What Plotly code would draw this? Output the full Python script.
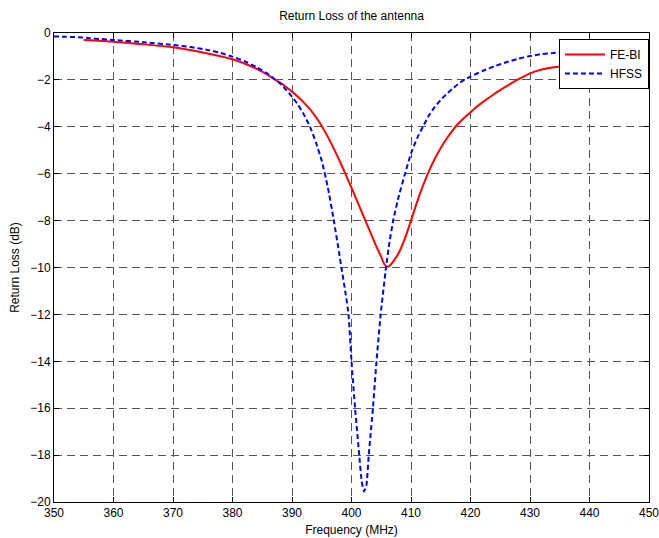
import plotly.graph_objects as go

# FE-BI simulation: frequency (MHz) and return loss (dB)
febi_freq = [355, 360, 365, 370, 375, 380, 382, 384, 386, 387, 388, 389, 390,
             391, 392, 393, 394, 395, 396, 397, 398, 399, 400, 401, 402, 403,
             404, 405, 405.5, 406, 406.5, 407, 408, 409, 410, 411, 412, 413, 414,
             415, 416, 417, 418, 419, 420, 421, 422, 424, 426, 428, 430, 432,
             434, 436, 438, 440, 442, 444, 446, 448, 450]
febi_rl = [-0.30, -0.37, -0.48, -0.61, -0.83, -1.12, -1.30, -1.52, -1.80, -1.97,
           -2.12, -2.30, -2.50, -2.72, -2.97, -3.25, -3.58, -3.97, -4.42, -4.92,
           -5.45, -6.02, -6.60, -7.20, -7.80, -8.40, -9.00, -9.55, -9.85, -9.97,
           -9.90, -9.75, -9.35, -8.75, -8.00, -7.22, -6.52, -5.90, -5.36, -4.90,
           -4.50, -4.15, -3.85, -3.60, -3.38, -3.16, -2.96, -2.60, -2.28, -1.98,
           -1.72, -1.56, -1.46, -1.41, -1.38, -1.37, -1.37, -1.38, -1.40, -1.42,
           -1.45]

# HFSS simulation: frequency (MHz) and return loss (dB)
hfss_freq = [350, 352, 354, 356, 358, 360, 365, 370, 373, 376, 378, 380, 382,
             384, 386, 387, 388, 389, 390, 391, 392, 393, 394, 395, 396, 397,
             398, 398.3, 399, 399.5, 400, 400.6, 401.3, 401.7, 402.1, 402.5,
             402.9, 403.6, 404.2, 404.9, 405.8, 406.4, 407, 408, 409, 410, 411,
             412, 413, 414, 415, 416, 417, 418, 419, 420, 422, 424, 426, 428,
             430, 432, 434, 436, 438, 440, 442, 444, 446, 448, 450]
hfss_rl = [-0.15, -0.16, -0.18, -0.22, -0.26, -0.30, -0.39, -0.51, -0.60, -0.73,
           -0.85, -1.01, -1.20, -1.45, -1.75, -1.95, -2.15, -2.42, -2.72, -3.05,
           -3.48, -3.98, -4.65, -5.45, -6.55, -7.95, -9.50, -10.0, -11.1, -12.0,
           -14.0, -16.0, -18.0, -19.1, -19.55, -19.3, -18.0, -16.0, -14.0, -12.0,
           -10.0, -8.90, -8.00, -6.90, -6.00, -5.13, -4.50, -4.00, -3.52, -3.15,
           -2.85, -2.60, -2.37, -2.16, -1.99, -1.86, -1.62, -1.42, -1.25, -1.10,
           -0.98, -0.90, -0.85, -0.84, -0.84, -0.85, -0.87, -0.89, -0.91, -0.93,
           -0.95]

x_ticks = list(range(350, 451, 10))
y_ticks = list(range(-20, 1, 2))

FONT = "Liberation Sans, Arial, sans-serif"

fig = go.Figure()
fig.add_trace(go.Scatter(x=febi_freq, y=febi_rl, mode="lines", name="FE-BI",
                         line=dict(color="#ff0000", width=2, shape="spline", smoothing=0.6)))
fig.add_trace(go.Scatter(x=hfss_freq, y=hfss_rl, mode="lines", name="HFSS",
                         line=dict(color="#0000ff", width=2, dash="5px,3px",
                                   shape="spline", smoothing=0.4)))

axis_common = dict(
    showline=True, linecolor="black", linewidth=1, mirror="ticks",
    ticks="inside", ticklen=5, tickcolor="black",
    showgrid=True, gridcolor="#555555", griddash="8px,5px", gridwidth=1,
    zeroline=False, automargin=False, ticklabeloverflow="allow",
    tickfont=dict(family=FONT, size=12, color="black"),
)

fig.update_xaxes(range=[350, 450], tickvals=x_ticks,
                 title=dict(text="Frequency (MHz)", font=dict(family=FONT, size=12, color="black"),
                            standoff=6),
                 **axis_common)
fig.update_yaxes(range=[-20, 0], tickvals=y_ticks,
                 title=dict(text="Return Loss (dB)", font=dict(family=FONT, size=12, color="black"),
                            standoff=8),
                 **axis_common)

fig.update_layout(
    width=659, height=538,
    margin=dict(l=54, r=10, t=33, b=36),
    paper_bgcolor="white", plot_bgcolor="white",
    font=dict(family=FONT, size=12, color="black"),
    title=dict(text="Return Loss of the antenna", x=0.5335, xanchor="center",
               y=0.97, yanchor="middle", font=dict(family=FONT, size=12, color="black")),
    legend=dict(x=1.0, xanchor="right", y=0.987, yanchor="top",
                bgcolor="white", bordercolor="black", borderwidth=1,
                font=dict(family=FONT, size=12, color="black"),
                tracegroupgap=0, itemwidth=40),
    showlegend=True,
)

fig.write_html("out.html")
